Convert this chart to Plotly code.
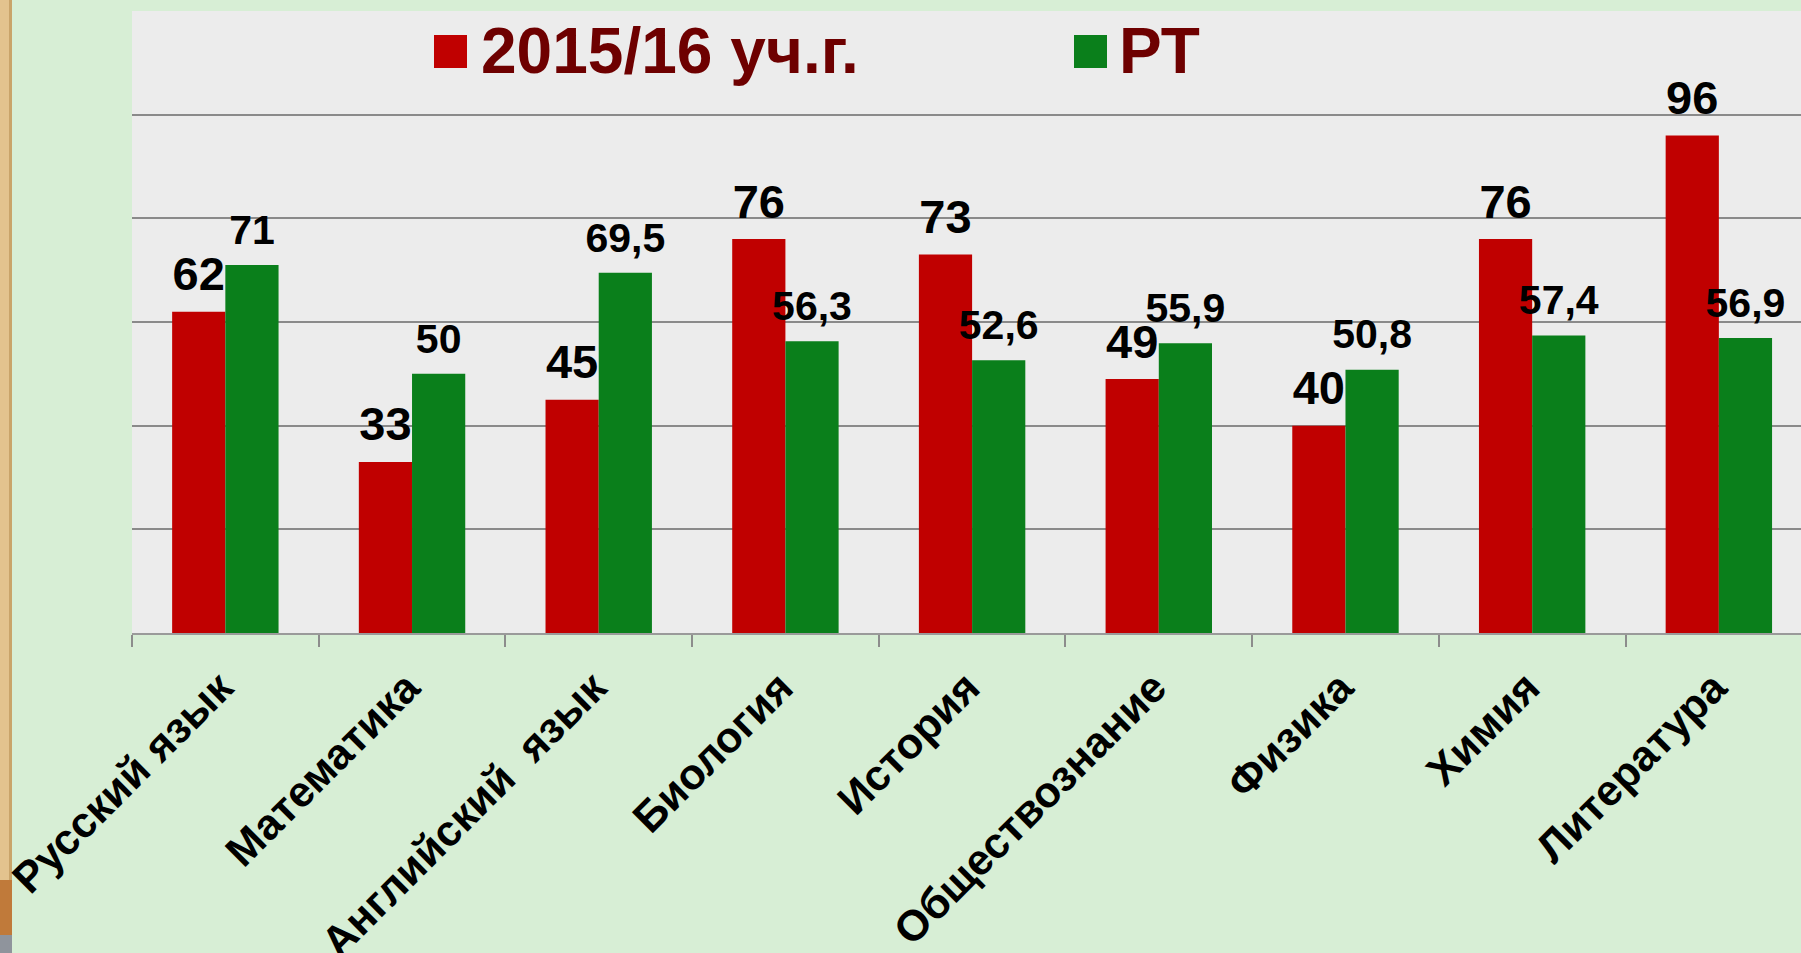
import plotly.graph_objects as go

categories = ["Русский язык", "Математика", "Английский \u00a0язык", "Биология", "История",
              "Обществознание", "Физика", "Химия", "Литература"]
series_names = ["2015/16 уч.г.", "РТ"]
values_2015 = [62, 33, 45, 76, 73, 49, 40, 76, 96]
values_rt = [71, 50, 69.5, 56.3, 52.6, 55.9, 50.8, 57.4, 56.9]
y_ticks = [0, 20, 40, 60, 80, 100, 120]

RED = "#c00000"
GREEN = "#0a7f1b"
FONT = "Liberation Sans, Arial, sans-serif"

W, H = 1801, 953
ML, MT, MB = 132, 11, 320
PW = W - ML
PH = H - MT - MB


def fmt(v):
    s = ("%g" % v)
    return s.replace(".", ",")


def px_x(px):
    return (px - ML) / PW


def px_y(py):
    return (H - MB - py) / PH


fig = go.Figure()
fig.add_trace(go.Bar(x=categories, y=values_2015, name=series_names[0],
                     marker=dict(color=RED, line=dict(width=0)), showlegend=False))
fig.add_trace(go.Bar(x=categories, y=values_rt, name=series_names[1],
                     marker=dict(color=GREEN, line=dict(width=0)), showlegend=False))

# value labels (grouped scatter text aligned with the bars)
fig.add_trace(go.Scatter(x=categories, y=values_2015, mode="markers+text",
                         text=[fmt(v) for v in values_2015], textposition="top center",
                         marker=dict(size=14, opacity=0), cliponaxis=False,
                         textfont=dict(family=FONT, size=47, color="black", weight="bold"),
                         showlegend=False, hoverinfo="skip"))
fig.add_trace(go.Scatter(x=categories, y=values_rt, mode="markers+text",
                         text=[fmt(v) for v in values_rt], textposition="top center",
                         marker=dict(size=16, opacity=0), cliponaxis=False,
                         textfont=dict(family=FONT, size=41, color="black", weight="bold"),
                         showlegend=False, hoverinfo="skip"))

shapes = [
    # wooden strip at far left
    dict(type="rect", xref="paper", yref="paper", x0=px_x(0), x1=px_x(12),
         y0=px_y(H), y1=px_y(0), fillcolor="#e3c38e", line=dict(width=0), layer="below"),
    dict(type="rect", xref="paper", yref="paper", x0=px_x(9), x1=px_x(12),
         y0=px_y(H), y1=px_y(0), fillcolor="#c9a46a", line=dict(width=0), layer="below"),
    dict(type="rect", xref="paper", yref="paper", x0=px_x(0), x1=px_x(12),
         y0=px_y(935), y1=px_y(880), fillcolor="#c07a3a", line=dict(width=0), layer="below"),
    dict(type="rect", xref="paper", yref="paper", x0=px_x(0), x1=px_x(12),
         y0=px_y(H), y1=px_y(935), fillcolor="#8f949c", line=dict(width=0), layer="below"),
    # legend swatches
    dict(type="rect", xref="paper", yref="paper", x0=px_x(434), x1=px_x(467),
         y0=px_y(68), y1=px_y(35), fillcolor=RED, line=dict(width=0)),
    dict(type="rect", xref="paper", yref="paper", x0=px_x(1074), x1=px_x(1107),
         y0=px_y(68), y1=px_y(35), fillcolor=GREEN, line=dict(width=0)),
]

annotations = [
    dict(xref="paper", yref="paper", x=px_x(479), y=px_y(51), text=series_names[0],
         showarrow=False, xanchor="left", yanchor="middle",
         font=dict(family=FONT, size=64, color="#6e0000", weight="bold")),
    dict(xref="paper", yref="paper", x=px_x(1117), y=px_y(51), text=series_names[1],
         showarrow=False, xanchor="left", yanchor="middle",
         font=dict(family=FONT, size=64, color="#6e0000", weight="bold")),
]

fig.update_layout(
    width=W, height=H,
    margin=dict(l=ML, r=0, t=MT, b=MB, pad=0),
    paper_bgcolor="#d7eed5",
    plot_bgcolor="#ececec",
    barmode="group",
    bargap=0.43,
    bargroupgap=0,
    scattermode="group",
    scattergap=0.43,
    shapes=shapes,
    annotations=annotations,
    xaxis=dict(
        range=[-0.5, 8.44],
        tickangle=-45,
        tickfont=dict(family=FONT, size=43, color="black", weight="bold"),
        ticks="outside", tickson="boundaries", ticklen=12, tickwidth=2,
        tickcolor="#8c8c8c",
        ticklabelstandoff=10, ticklabelshift=-5,
        showline=True, linecolor="#9a9a9a", linewidth=2,
        showgrid=False, automargin=False, fixedrange=True,
    ),
    yaxis=dict(
        range=[0, 120],
        tickvals=y_ticks,
        showticklabels=False,
        showgrid=True, gridcolor="#8a8a8a", gridwidth=2,
        zeroline=False, showline=False, automargin=False, fixedrange=True,
    ),
    showlegend=False,
)

fig.write_html(
    "out.html",
    config={"displayModeBar": False},
    post_script="document.body.style.margin='0';document.body.style.overflow='hidden';"
                "document.body.style.background='#d7eed5';",
)
